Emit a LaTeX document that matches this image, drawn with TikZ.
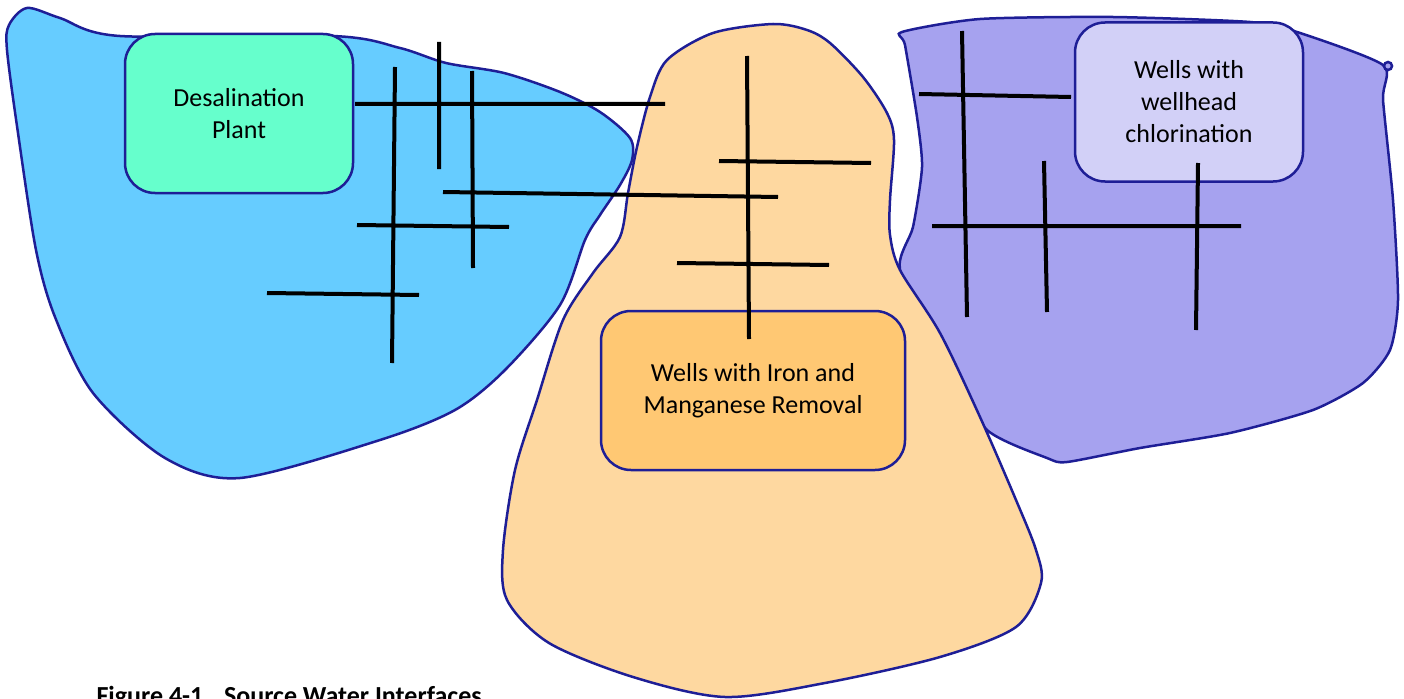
\documentclass[tikz,border=0pt]{standalone}
\usepackage{fontspec}
\setmainfont{Carlito}
\definecolor{edgeblue}{RGB}{30,30,150}
\definecolor{seablue}{RGB}{102,204,255}
\definecolor{sandorange}{RGB}{254,216,160}
\definecolor{lilac}{RGB}{166,162,239}
\definecolor{desalgreen}{RGB}{102,255,204}
\definecolor{ironorange}{RGB}{255,200,115}
\definecolor{paleviolet}{RGB}{210,208,247}
\begin{document}
\begin{tikzpicture}[x=1pt,y=-1pt,
  zone/.style={draw=edgeblue,line width=2.5pt},
  plant/.style={draw=edgeblue,line width=2.5pt,rounded corners=30pt,align=center,
    minimum width=228pt,minimum height=159pt,font=\fontsize{26}{32}\selectfont},
  pipe/.style={line width=4pt}]
\useasboundingbox (0,0) rectangle (1404,698);

\draw[zone,fill=seablue] plot[smooth cycle,tension=0.5] coordinates {
(9,25) (27,8) (60,18) (120,36) (333,36) (400,48) (446,63) (504,73)
(560,92) (600,112) (630,138) (632,160) (620,185) (600,215) (585,240)
(560,305) (505,370) (455,410) (380,440) (240,478) (165,458) (93,393)
(55,317) (36,250) (18,133) (7,50)};

\draw[zone,fill=lilac] plot[smooth cycle,tension=0.4] coordinates {
(902,32) (980,19) (1113,17) (1250,22) (1297,32) (1383,65) (1383,100)
(1393,200) (1398,300) (1390,350) (1363,383) (1313,410) (1230,433)
(1140,448) (1067,462) (1047,458) (987,430) (940,360) (900,270)
(913,227) (922,167) (917,117) (905,45)};
\draw[zone,fill=lilac] (1388,66) circle (4pt);

\draw[zone,fill=sandorange] plot[smooth cycle,tension=0.5] coordinates {
(773,24) (807,30) (830,43) (863,77) (887,113) (894,140) (890,200)
(890,235) (900,270) (940,333) (980,417) (1016,500) (1036,550)
(1041,583) (1016,627) (940,657) (825,683) (725,697) (633,677)
(549,643) (507,600) (503,550) (515,470) (537,400) (563,320) (593,273)
(620,237) (628,193) (637,147) (650,97) (667,60) (713,33)};

\node[plant,fill=desalgreen] (desal) at (239,113.5) {Desalination\\Plant};
\node[plant,fill=ironorange,minimum width=304pt] (ironwells) at (753,390.5) {Wells with Iron and\\Manganese Removal};
\node[plant,fill=paleviolet] (chlorwells) at (1189,102) {Wells with\\wellhead\\chlorination};

\draw[pipe]
(355,104) -- (665,104)
(395,67) -- (392,363)
(439,42) -- (439,169)
(472,71) -- (473,268)
(443,192) -- (778,197)
(357,225) -- (509,227)
(267,293) -- (419,295);
\draw[pipe]
(747,56) -- (749,339)
(719,161) -- (871,163)
(677,263) -- (829,265);
\draw[pipe]
(962,31) -- (967,317)
(919,94) -- (1071,97)
(932,226) -- (1241,226)
(1044,161) -- (1047,312)
(1198,163) -- (1196,330);

\node[anchor=base west,font=\fontsize{26}{32}\selectfont\bfseries] (caption) at (93,704) {Figure 4-1.~ Source Water Interfaces};
\end{tikzpicture}
\end{document}
